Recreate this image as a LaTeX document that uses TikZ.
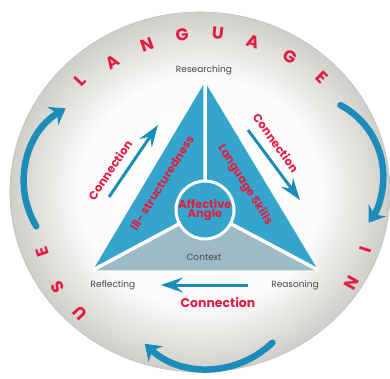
\documentclass[tikz,border=0pt]{standalone}
\usepackage{fontspec}
\setmainfont{Poppins}
\usetikzlibrary{arrows.meta}
\definecolor{triblue}{RGB}{54,165,205}
\definecolor{arrowblue}{RGB}{28,141,186}
\definecolor{ctxgray}{RGB}{157,186,198}
\definecolor{wordred}{RGB}{226,28,66}
\definecolor{labelgray}{RGB}{72,72,72}
\definecolor{discedge}{RGB}{208,206,200}
\pgfdeclareradialshading{discshade}{\pgfpointorigin}{color(0bp)=(white); color(16bp)=(white!93!discedge); color(25bp)=(discedge); color(50bp)=(discedge)}

\begin{document}
\begin{tikzpicture}[x=1pt,y=1pt,
	stage/.style={text=labelgray,font=\fontsize{9}{10}\selectfont},
	redword/.style={text=wordred,font=\bfseries\fontsize{11.5}{12}\selectfont},
	ringletter/.style={text=wordred,font=\bfseries\fontsize{17}{17}\selectfont},
	bigarrow/.style={arrowblue,line width=6.5pt,line cap=round,-{Stealth[length=15pt,width=21pt,inset=5pt]}},
	smallarrow/.style={arrowblue,line width=3pt,-{Stealth[length=22pt,width=15pt,inset=8pt]}}]
	\useasboundingbox (0,0) rectangle (390,378);
	\shade[shading=discshade] (200,186) ellipse (190 and 180);
	\draw[gray!50,line width=0.6pt] (200,186) ellipse (190 and 180);

	\node[ringletter,rotate=45.5]  (l1) at (80, 298)  {L};
	\node[ringletter,rotate=32.8]  (l2) at (113, 316) {A};
	\node[ringletter,rotate=19.5]  (l3) at (147, 333) {N};
	\node[ringletter,rotate=6.9]   (l4) at (182, 343) {G};
	\node[ringletter,rotate=-5.5]  (l5) at (218, 345) {U};
	\node[ringletter,rotate=-17.9] (l6) at (253, 336) {A};
	\node[ringletter,rotate=-31.6] (l7) at (290, 321) {G};
	\node[ringletter,rotate=-44.3] (l8) at (322, 301) {E};
	\node[ringletter,rotate=132.8] (u1) at (80, 65)   {U};
	\node[ringletter,rotate=121.1] (u2) at (58, 91)   {S};
	\node[ringletter,rotate=108]   (u3) at (42, 126)  {E};
	\node[ringletter,rotate=-107]  (i1) at (365, 128) {I};
	\node[ringletter,rotate=-119]  (i2) at (352, 95)  {N};

	\coordinate (apex)  at (205, 296);
	\coordinate (left)  at (93, 108);
	\coordinate (right) at (318, 108);
	\coordinate (hub)   at (205, 168);
	\fill[triblue] (apex) -- (left) -- (right) -- cycle;
	\fill[ctxgray] (left) -- (hub) -- (right) -- cycle;
	\draw[white,line width=3.5pt] (hub) -- (apex) (hub) -- (left) (hub) -- (right);
	\node[circle,fill=triblue,draw=white,line width=3pt,minimum size=58pt,inner sep=0pt,align=center,redword] (affect) at (hub) {Affective\\[-3pt]Angle};

	\node[stage] (research) at (204, 308) {Researching};
	\node[stage] (reflect)  at (113, 93)  {Reflecting};
	\node[stage] (reason)   at (295, 93)  {Reasoning};
	\node[stage] (context)  at (204, 121) {Context};

	\node[redword,rotate=58]  (ill)    at (162, 195) {Ill- structuredness};
	\node[redword,rotate=-58] (skills) at (245, 193) {Language Skills};
	\node[redword,rotate=56]  (linkleft)   at (110, 208) {Connection};
	\node[redword,rotate=-54] (linkright)  at (276, 235) {Connection};
	\node[redword,font=\bfseries\fontsize{12.5}{13}\selectfont] (linkbottom) at (218, 75) {Connection};

	\coordinate (upfrom)   at (109, 181);
	\coordinate (upto)     at (158, 253);
	\coordinate (downfrom) at (248, 248);
	\coordinate (downto)   at (300, 178);
	\draw[smallarrow] (upfrom) -- (upto);
	\draw[smallarrow] (downfrom) -- (downto);
	\draw[smallarrow,shorten <=20pt,shorten >=22pt] (reason) -- (reflect);

	\coordinate (usefrom)  at ([shift={(110,196)}]211:86);
	\coordinate (infrom)   at ([shift={(302.6,201.6)}]62:80.7);
	\coordinate (backfrom) at ([shift={(208,102)}]-46:92.7);
	\draw[bigarrow] (usefrom) arc[start angle=211,end angle=121,radius=86];
	\draw[bigarrow] (infrom) arc[start angle=62,end angle=-35,radius=80.7];
	\draw[bigarrow] (backfrom) arc[start angle=-46,end angle=-133,radius=92.7];
\end{tikzpicture}
\end{document}
